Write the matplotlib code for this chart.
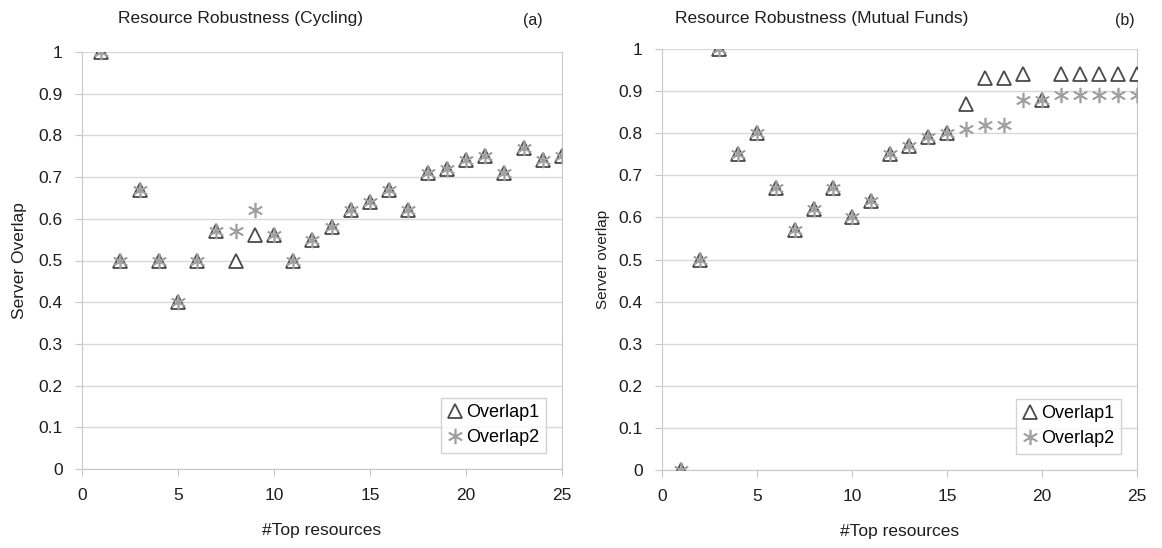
import matplotlib
matplotlib.use('Agg')
import matplotlib.pyplot as plt
import numpy as np

plt.rcParams['font.family'] = ['Liberation Sans', 'DejaVu Sans']

# data
top_resources = list(range(1, 26))

cycling_overlap1 = [1.0, 0.5, 0.67, 0.5, 0.4, 0.5, 0.57, 0.5, 0.56, 0.56,
                    0.5, 0.55, 0.58, 0.62, 0.64, 0.67, 0.62, 0.71, 0.72, 0.74,
                    0.75, 0.71, 0.77, 0.74, 0.75]
cycling_overlap2 = [1.0, 0.5, 0.67, 0.5, 0.4, 0.5, 0.57, 0.57, 0.62, 0.56,
                    0.5, 0.55, 0.58, 0.62, 0.64, 0.67, 0.62, 0.71, 0.72, 0.74,
                    0.75, 0.71, 0.77, 0.74, 0.75]

funds_overlap1 = [0.0, 0.5, 1.0, 0.75, 0.8, 0.67, 0.57, 0.62, 0.67, 0.6,
                  0.64, 0.75, 0.77, 0.79, 0.8, 0.87, 0.93, 0.93, 0.94, 0.88,
                  0.94, 0.94, 0.94, 0.94, 0.94]
funds_overlap2 = [0.0, 0.5, 1.0, 0.75, 0.8, 0.67, 0.57, 0.62, 0.67, 0.6,
                  0.64, 0.75, 0.77, 0.79, 0.8, 0.81, 0.82, 0.82, 0.88, 0.88,
                  0.89, 0.89, 0.89, 0.89, 0.89]

y_ticks = [0, 0.1, 0.2, 0.3, 0.4, 0.5, 0.6, 0.7, 0.8, 0.9, 1]
y_ticklabels = ['0', '0.1', '0.2', '0.3', '0.4', '0.5', '0.6', '0.7', '0.8', '0.9', '1']
x_ticks = [0, 5, 10, 15, 20, 25]

tri_color = '#4a4a4a'
star_color = '#a0a0a0'
grid_color = '#d8d8d8'
text_color = '#1e1e1e'

W, H = 1162, 548
fig = plt.figure(figsize=(W / 100, H / 100), dpi=100)


def make_panel(rect, y1, y2, title, title_x, tag, tag_x, ylabel, ylabel_size, ylabel_pad):
    ax = fig.add_axes(rect)
    ax.plot(top_resources, y1, ls='none', marker='^', ms=10, mfc='white',
            mec=tri_color, mew=1.3, label='Overlap1', zorder=3)
    ax.plot(top_resources, y2, ls='none', marker=(6, 2, 0), ms=11,
            mec=star_color, mew=1.2, label='Overlap2', zorder=4)
    ax.set_xlim(0, 25)
    ax.set_ylim(0, 1)
    ax.set_yticks(y_ticks)
    ax.set_yticklabels(y_ticklabels)
    ax.set_xticks(x_ticks)
    ax.grid(axis='y', color=grid_color, lw=1)
    ax.set_axisbelow(True)
    for s in ['left', 'right', 'bottom']:
        ax.spines[s].set_color('#c8c8c8')
    ax.spines['top'].set_visible(False)
    ax.tick_params(axis='both', colors='#c8c8c8', labelcolor=text_color,
                   labelsize=12.5, length=5, direction='out')
    ax.tick_params(axis='y', pad=9)
    ax.tick_params(axis='x', pad=9)
    ax.set_xlabel('#Top resources', fontsize=12.5, color=text_color, labelpad=14)
    ax.set_ylabel(ylabel, fontsize=ylabel_size, color=text_color, labelpad=ylabel_pad)
    fig.text(title_x, 1 - 18 / H, title, fontsize=12.5, color=text_color,
             ha='center', va='center')
    fig.text(tag_x, 1 - 20 / H, tag, fontsize=11.5, color=text_color,
             ha='center', va='center')
    leg = ax.legend(loc='lower right', fontsize=13, handletextpad=0.15,
                    handlelength=0.9, borderpad=0.35, labelspacing=0.45,
                    frameon=True, fancybox=False, borderaxespad=0.9)
    leg.get_frame().set_edgecolor('#c8c8c8')
    leg.get_frame().set_linewidth(1)
    return ax


make_panel([82 / W, 79 / H, 480 / W, 417 / H], cycling_overlap1, cycling_overlap2,
           'Resource Robustness (Cycling)', 240 / W, '(a)', 533 / W,
           'Server Overlap', 12.5, 8)
make_panel([662 / W, 78 / H, 475 / W, 421 / H], funds_overlap1, funds_overlap2,
           'Resource Robustness (Mutual Funds)', 822 / W, '(b)', 1125 / W,
           'Server overlap', 11, 6)

fig.savefig('out.png', dpi=100)
